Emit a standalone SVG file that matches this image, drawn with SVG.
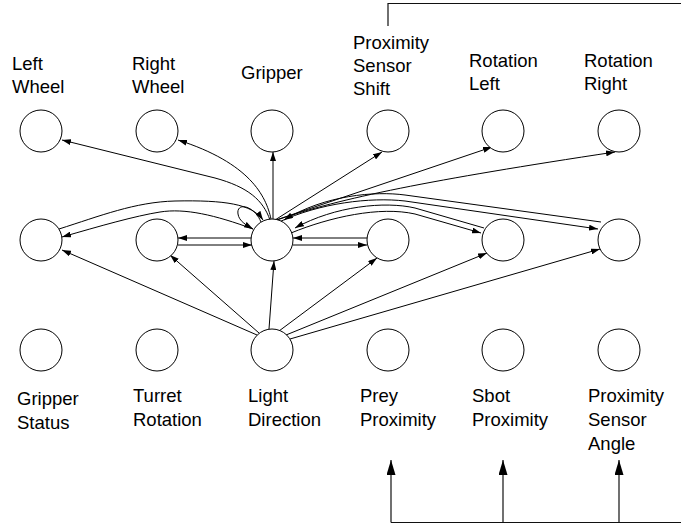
<svg xmlns="http://www.w3.org/2000/svg" width="681" height="527" viewBox="0 0 681 527">
<style>
.n{fill:#fff;stroke:#000;stroke-width:1}
.t{font-family:"Liberation Sans",Arial,Helvetica,sans-serif;font-size:18.5px;fill:#000}
.e{fill:none;stroke:#000;stroke-width:1;marker-end:url(#a)}
.f{fill:none;stroke:#111;stroke-width:1.2}
.g{fill:none;stroke:#111;stroke-width:1.2;marker-end:url(#b)}
</style>
<defs>
<marker id="a" markerUnits="userSpaceOnUse" markerWidth="9" markerHeight="6" refX="9" refY="3" orient="auto"><path d="M0,0 L9,3 L0,6 z" fill="#000"/></marker>
<marker id="b" markerUnits="userSpaceOnUse" markerWidth="15" markerHeight="9" refX="15" refY="4.5" orient="auto"><path d="M0,0 L15,4.5 L0,9 z" fill="#000"/></marker>
</defs>
<rect width="681" height="527" fill="#fff"/>
<g id="connectors">
<path class="e" d="M270,220 C263,200 248,187 215,178 L62,140"/>
<path class="e" d="M271,219 C266,196 250,163 178,140"/>
<path class="e" d="M273,219 L273,152"/>
<path class="e" d="M275,220 L382,152"/>
<path class="e" d="M276,220 L492,147"/>
<path class="e" d="M277,220 C340,198 430,180 615,152"/>
<path class="e" d="M253,229 C215,215 185,208 160,212 C135,216 100,226 62,237"/>
<path class="e" d="M59,229 C100,216 135,202 175,201 C225,200 252,204 263,220"/>
<path class="e" d="M252,238 L178,238"/>
<path class="e" d="M178,245 L252,245"/>
<path class="e" d="M367,238 L293,238"/>
<path class="e" d="M293,245 L367,245"/>
<path class="e" d="M601,222 L405,195 C375,191 325,195 284,220"/>
<path class="e" d="M279,222 C320,203 370,197 405,201 L598,229"/>
<path class="e" d="M484,228 L415,208 C385,201 335,206 295,228"/>
<path class="e" d="M291,233 C330,217 380,206 415,214 L481,233"/>
<path class="e" d="M261,222 C254,205 236,202 238,214 C239,221 246,225 253,229"/>
<path class="e" d="M257,335 L62,250"/>
<path class="e" d="M259,333 L170,255"/>
<path class="e" d="M269,329 L274,261"/>
<path class="e" d="M279,331 L377,258"/>
<path class="e" d="M286,335 L487,253"/>
<path class="e" d="M290,339 L600,249"/>
<path class="f" d="M388,26 L388,3.5 L681,3.5"/>
<path class="f" d="M391,522.5 L681,522.5"/>
<path class="g" d="M391,522.5 L391,460"/>
<path class="g" d="M503,522.5 L503,460"/>
<path class="g" d="M619,522.5 L619,460"/>
</g>
<g id="left-wheel"><circle class="n" cx="41" cy="131" r="21"/><text class="t" x="12" y="70">Left</text><text class="t" x="12" y="93">Wheel</text></g>
<g id="right-wheel"><circle class="n" cx="157" cy="131" r="21"/><text class="t" x="132" y="70">Right</text><text class="t" x="132" y="93">Wheel</text></g>
<g id="gripper"><circle class="n" cx="272" cy="131" r="21"/><text class="t" x="241" y="79">Gripper</text></g>
<g id="prox-shift"><circle class="n" cx="388" cy="131" r="21"/><text class="t" x="353" y="49">Proximity</text><text class="t" x="353" y="72">Sensor</text><text class="t" x="353" y="95">Shift</text></g>
<g id="rot-left"><circle class="n" cx="503" cy="131" r="21"/><text class="t" x="469" y="67">Rotation</text><text class="t" x="469" y="90">Left</text></g>
<g id="rot-right"><circle class="n" cx="619" cy="131" r="21"/><text class="t" x="584" y="67">Rotation</text><text class="t" x="584" y="90">Right</text></g>
<g id="h1"><circle class="n" cx="41" cy="240" r="21"/></g>
<g id="h2"><circle class="n" cx="157" cy="240" r="21"/></g>
<g id="h3"><circle class="n" cx="272" cy="240" r="21"/></g>
<g id="h4"><circle class="n" cx="388" cy="240" r="21"/></g>
<g id="h5"><circle class="n" cx="503" cy="240" r="21"/></g>
<g id="h6"><circle class="n" cx="619" cy="240" r="21"/></g>
<g id="gripper-status"><circle class="n" cx="41" cy="350" r="21"/><text class="t" x="17" y="405">Gripper</text><text class="t" x="17" y="429">Status</text></g>
<g id="turret-rotation"><circle class="n" cx="157" cy="350" r="21"/><text class="t" x="133" y="402">Turret</text><text class="t" x="133" y="426">Rotation</text></g>
<g id="light-direction"><circle class="n" cx="272" cy="350" r="21"/><text class="t" x="248" y="402">Light</text><text class="t" x="248" y="426">Direction</text></g>
<g id="prey-proximity"><circle class="n" cx="388" cy="350" r="21"/><text class="t" x="360" y="402">Prey</text><text class="t" x="360" y="426">Proximity</text></g>
<g id="sbot-proximity"><circle class="n" cx="503" cy="350" r="21"/><text class="t" x="472" y="402">Sbot</text><text class="t" x="472" y="426">Proximity</text></g>
<g id="prox-angle"><circle class="n" cx="619" cy="350" r="21"/><text class="t" x="588" y="402">Proximity</text><text class="t" x="588" y="426">Sensor</text><text class="t" x="588" y="450">Angle</text></g>
</svg>
